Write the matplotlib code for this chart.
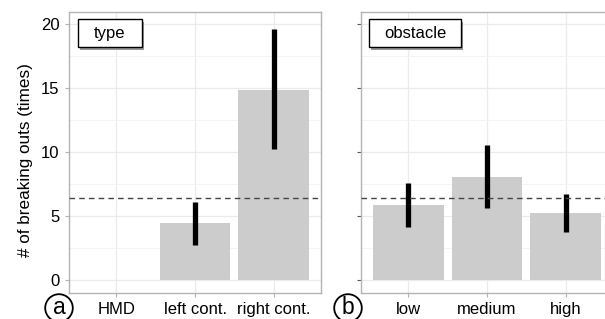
import numpy as np
import matplotlib.pyplot as plt
from matplotlib.patches import Rectangle
from matplotlib.ticker import MultipleLocator

plt.rcParams['font.family'] = ['Liberation Sans', 'DejaVu Sans']

# panel a: controller type
type_labels = ['HMD', 'left cont.', 'right cont.']
type_mean = [0, 4.41, 14.9]
type_lo = [0, 2.76, 10.24]
type_hi = [0, 6.09, 19.63]

# panel b: obstacle
obs_labels = ['low', 'medium', 'high']
obs_mean = [5.87, 8.08, 5.22]
obs_lo = [4.14, 5.59, 3.75]
obs_hi = [7.6, 10.55, 6.69]

overall = 6.43

fig = plt.figure(figsize=(6.05, 3.19), dpi=100)
W, H = 605, 319

def make_ax(x0, x1):
    return fig.add_axes([x0 / W, 1 - 292.5 / H, (x1 - x0) / W, 280.8 / H])

axa = make_ax(69.3, 320.7)
axb = make_ax(361, 613)

def draw(ax, labels, mean, lo, hi, title, box_w, show_y):
    x = np.arange(len(labels)) + 1
    mean = np.array(mean)
    has = mean > 0
    ax.bar(x[has], mean[has], width=0.9, color='#cccccc', zorder=2)
    for xi, l, h, m in zip(x, lo, hi, mean):
        if m > 0:
            ax.plot([xi, xi], [l, h], color='black', lw=3.8, solid_capstyle='butt', zorder=3)
    ax.axhline(overall, color='#444444', lw=1.0, ls=(0, (4, 3)), zorder=4)
    ax.set_xlim(0.4, 3.6)
    ax.set_ylim(-1.0, 21.0)
    ax.set_xticks(x)
    ax.set_xticklabels(labels)
    ax.yaxis.set_major_locator(MultipleLocator(5))
    ax.yaxis.set_minor_locator(MultipleLocator(2.5))
    ax.grid(True, which='major', color='#ebebeb', lw=0.9, zorder=0)
    ax.grid(True, which='minor', axis='y', color='#f3f3f3', lw=0.6, zorder=0)
    ax.set_axisbelow(True)
    for s in ax.spines.values():
        s.set_color('#b3b3b3')
        s.set_linewidth(1.0)
    ax.tick_params(which='major', length=3, color='#b3b3b3', labelsize=12, pad=4, labelcolor='black')
    ax.tick_params(which='minor', length=0)
    if not show_y:
        ax.tick_params(axis='y', labelleft=False, color='#555555')
    # label box with shadow
    ax.add_patch(Rectangle((0.033 + 0.008, 0.875 - 0.010), box_w, 0.098,
                           transform=ax.transAxes, facecolor='#999999', edgecolor='none', zorder=5))
    ax.add_patch(Rectangle((0.033, 0.875), box_w, 0.098,
                           transform=ax.transAxes, facecolor='white', edgecolor='black', lw=1.0, zorder=6))
    ax.text(0.033 + box_w / 2, 0.875 + 0.049, title, transform=ax.transAxes,
            ha='center', va='center', fontsize=12, zorder=7)

draw(axa, type_labels, type_mean, type_lo, type_hi, 'type', 0.257, True)
draw(axb, obs_labels, obs_mean, obs_lo, obs_hi, 'obstacle', 0.365, False)
axa.set_ylabel('# of breaking outs (times)', fontsize=12.3)
axa.yaxis.set_label_coords(-0.145, 0.472)

for lab, cx in [('a', 59), ('b', 348)]:
    fig.text(cx / W, 1 - 308 / H, lab, ha='center', va='center', fontsize=16.5,
             bbox=dict(boxstyle='circle,pad=0.1', facecolor='white', edgecolor='black', lw=1.3))

fig.savefig('out.png', dpi=100)
